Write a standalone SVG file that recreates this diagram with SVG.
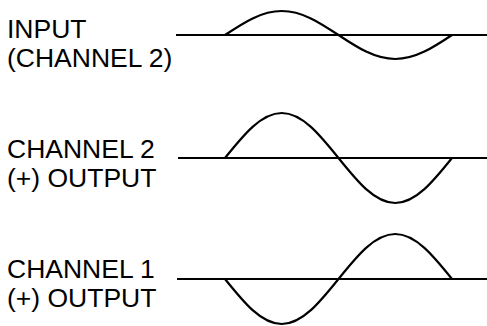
<svg xmlns="http://www.w3.org/2000/svg" width="487" height="326" viewBox="0 0 487 326">
<style>
text{font-family:"Liberation Sans",Arial,sans-serif;font-size:26.5px;fill:#000}
.axis{stroke:#000;stroke-width:2.2;fill:none}
.wave{stroke:#000;stroke-width:2.2;fill:none}
</style>
<rect width="487" height="326" fill="#fff"/>
<g id="input">
<text x="7" y="38">INPUT</text>
<text x="7" y="67">(CHANNEL 2)</text>
<line class="axis" x1="176" y1="35" x2="487" y2="35"/>
<path class="wave" d="M225,35 C243.51,22.7 261.21,11 281.75,11 C302.29,11 319.99,22.7 338.5,35 C357.01,47.3 374.71,59 395.25,59 C415.79,59 433.49,47.3 452,35"/>
</g>
<g id="ch2out">
<text x="7" y="158">CHANNEL 2</text>
<text x="7" y="187">(+) OUTPUT</text>
<line class="axis" x1="178" y1="158" x2="487" y2="158"/>
<path class="wave" d="M225,158 C243.51,134.95 261.21,113 281.75,113 C302.29,113 319.99,134.95 338.5,158 C357.01,181.05 374.71,203 395.25,203 C415.79,203 433.49,181.05 452,158"/>
</g>
<g id="ch1out">
<text x="7" y="278">CHANNEL 1</text>
<text x="7" y="307">(+) OUTPUT</text>
<line class="axis" x1="177" y1="279" x2="487" y2="279"/>
<path class="wave" d="M225,279 C243.51,302.05 261.21,324 281.75,324 C302.29,324 319.99,302.05 338.5,279 C357.01,255.95 374.71,234 395.25,234 C415.79,234 433.49,255.95 452,279"/>
</g>
</svg>
